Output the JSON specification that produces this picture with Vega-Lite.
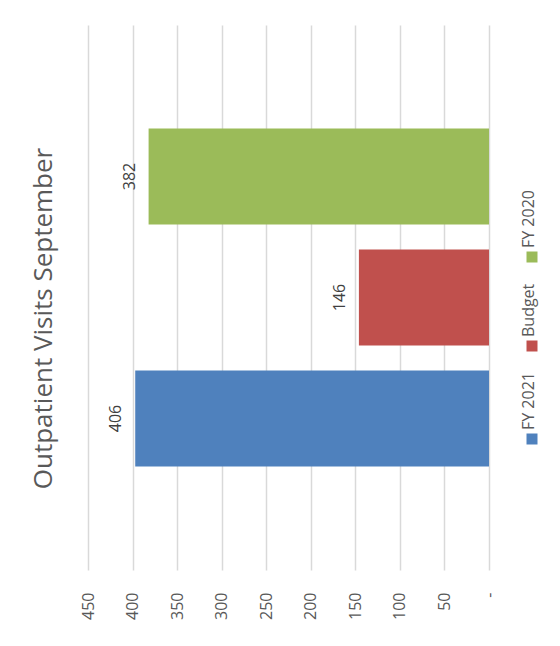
{
  "$schema": "https://vega.github.io/schema/vega-lite/v6.json",
  "width": 401,
  "height": 545,
  "autosize": {"type": "none"},
  "padding": {"left": 88, "top": 25, "right": 71, "bottom": 76},
  "background": "white",
  "title": {
    "text": "Outpatient Visits September",
    "orient": "left",
    "anchor": "middle",
    "font": "Open Sans",
    "fontSize": 26,
    "fontWeight": "normal",
    "color": "#595959",
    "offset": 23,
    "dx": -21
  },
  "data": {
    "values": [
      {"series": "FY 2021", "visits": 397, "label": "406"},
      {"series": "Budget", "visits": 146, "label": "146"},
      {"series": "FY 2020", "visits": 382, "label": "382"}
    ]
  },
  "encoding": {
    "y": {
      "field": "series",
      "type": "nominal",
      "scale": {"domain": ["FY 2020", "Budget", "FY 2021"], "paddingInner": 0.207, "paddingOuter": 0.855},
      "axis": null
    },
    "x": {
      "field": "visits",
      "type": "quantitative",
      "scale": {"domain": [0, 450], "reverse": true, "nice": false, "zero": true},
      "axis": {
        "orient": "bottom",
        "title": null,
        "values": [0, 50, 100, 150, 200, 250, 300, 350, 400, 450],
        "labelExpr": "datum.value == 0 ? '-\u00a0\u00a0\u00a0' : datum.label",
        "labelAngle": 270,
        "labelAlign": "right",
        "labelBaseline": "middle",
        "labelPadding": 22,
        "labelFont": "Open Sans",
        "labelFontSize": 16,
        "labelColor": "#595959",
        "domain": false,
        "ticks": false,
        "grid": true,
        "gridColor": "#d9d9d9",
        "gridWidth": 1.5
      }
    }
  },
  "layer": [
    {
      "mark": {"type": "bar"},
      "encoding": {
        "color": {
          "field": "series",
          "type": "nominal",
          "scale": {"domain": ["FY 2020", "Budget", "FY 2021"], "range": ["#9bbb59", "#c0504d", "#4f81bd"]},
          "legend": {
            "orient": "none",
            "legendX": 436,
            "legendY": 224,
            "direction": "vertical",
            "title": null,
            "symbolType": "square",
            "symbolSize": 121,
            "symbolStrokeWidth": 0,
            "labelFont": "Open Sans",
            "labelFontSize": 16,
            "labelColor": "#595959",
            "rowPadding": 20,
            "encode": {
              "labels": {
                "update": {
                  "angle": {"value": 270},
                  "align": {"value": "left"},
                  "baseline": {"value": "middle"},
                  "dx": {"value": 9},
                  "dy": {"value": -15}
                }
              }
            }
          }
        }
      }
    },
    {
      "mark": {"type": "text", "angle": 270, "align": "center", "baseline": "alphabetic", "dy": -14, "font": "Open Sans", "fontSize": 16, "color": "#404040"},
      "encoding": {"text": {"field": "label"}}
    }
  ],
  "config": {"view": {"stroke": null}}
}
